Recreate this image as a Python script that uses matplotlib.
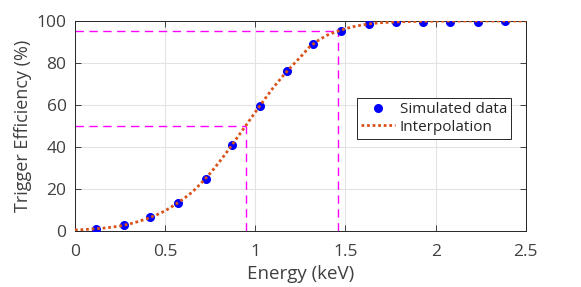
import matplotlib
matplotlib.use('Agg')
import matplotlib.pyplot as plt

plt.rcParams['font.family'] = ['Open Sans', 'DejaVu Sans']

# simulated points
energy = [0.118, 0.272, 0.418, 0.571, 0.724, 0.872, 1.024, 1.175,
          1.319, 1.474, 1.628, 1.780, 1.930, 2.082, 2.233, 2.384]
efficiency = [1.1, 2.7, 6.5, 13.3, 25.0, 41.1, 59.4, 76.0,
              88.8, 95.4, 98.4, 99.4, 99.4, 99.5, 99.6, 100.0]

# interpolation curve
interp_x = [0.00, 0.05, 0.10, 0.15, 0.20, 0.25, 0.30, 0.35, 0.40, 0.45,
            0.50, 0.55, 0.60, 0.65, 0.70, 0.75, 0.80, 0.85, 0.90, 0.95,
            1.00, 1.05, 1.10, 1.15, 1.20, 1.25, 1.30, 1.35, 1.40, 1.45,
            1.50, 1.55, 1.60, 1.65, 1.70, 1.80, 1.90, 2.00, 2.20, 2.50]
interp_y = [0.5, 0.7, 1.0, 1.3, 1.8, 2.4, 3.3, 4.5, 5.9, 7.6,
            9.6, 12.3, 15.2, 18.5, 22.8, 27.5, 32.8, 38.5, 44.5, 50.5,
            56.6, 62.5, 68.3, 73.5, 78.3, 82.8, 87.6, 90.8, 93.3, 94.9,
            96.3, 97.4, 98.2, 98.8, 99.2, 99.6, 99.8, 99.9, 100.0, 100.0]

# threshold markers (efficiency %, energy keV)
thr_levels = [50, 95]
thr_energy = [0.946, 1.456]

fig = plt.figure(figsize=(5.81, 2.87), dpi=100)
ax = fig.add_axes([0.129, 0.195, 0.776, 0.732])

txt = '#404040'
for lvl, en in zip(thr_levels, thr_energy):
    ax.plot([0, en], [lvl, lvl], ls=(0, (6, 4)), color='#ff00ff', lw=1.0, zorder=2)
    ax.plot([en, en], [0, lvl], ls=(0, (6, 4)), color='#ff00ff', lw=1.0, zorder=2)

ax.plot(energy, efficiency, 'o', color='#0000ff', ms=5.5, label='Simulated data', zorder=3)
ax.plot(interp_x, interp_y, ls=(0, (1, 1)), color='#d95319', lw=2.0, label='Interpolation', zorder=4)

ax.set_xlim(0, 2.5)
ax.set_ylim(0, 100)
ax.set_xticks([0, 0.5, 1, 1.5, 2, 2.5])
ax.set_xticklabels(['0', '0.5', '1', '1.5', '2', '2.5'])
ax.set_yticks([0, 20, 40, 60, 80, 100])
ax.grid(True, color='#e3e3e3', lw=0.8)
ax.set_axisbelow(True)
ax.tick_params(direction='in', top=True, right=True, colors='#262626',
               labelcolor=txt, labelsize=12.5, length=4, width=0.6)
ax.tick_params(axis='x', pad=9)
ax.tick_params(axis='y', pad=6)
for s in ax.spines.values():
    s.set_color('#262626')
    s.set_linewidth(0.7)

ax.set_xlabel('Energy (keV)', fontsize=13.5, color=txt, labelpad=4)
ax.set_ylabel('Trigger Efficiency (%)', fontsize=13, color=txt, labelpad=3)

leg = ax.legend(loc='upper left', bbox_to_anchor=(0.625, 0.635), borderaxespad=0,
                fontsize=11, fancybox=False, framealpha=1, edgecolor='#262626',
                handlelength=2.2, handletextpad=0.3, borderpad=0.3, labelspacing=0.15)
leg.get_frame().set_linewidth(0.7)
for t in leg.get_texts():
    t.set_color('#262626')

fig.savefig('out.png', dpi=100)
